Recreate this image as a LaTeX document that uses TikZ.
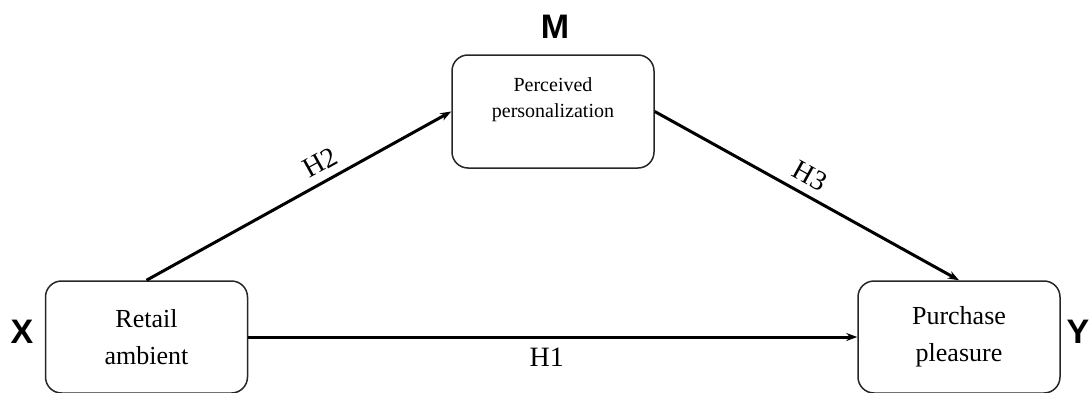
\documentclass[tikz,border=0pt]{standalone}
\usepackage{fontspec}
\setmainfont{Liberation Serif}
\newfontfamily\lsans{Liberation Sans}
\usetikzlibrary{arrows.meta}
\begin{document}
\begin{tikzpicture}[x=1pt,y=1pt,
  varbox/.style={draw=black!85, rounded corners=16pt, line width=1.5pt, minimum width=202pt, minimum height=112pt, inner sep=0pt, align=center},
  link/.style={line width=3pt, -{Stealth[length=11pt,width=8pt]}},
  hlabel/.style={font=\fontsize{28}{30}\selectfont, inner sep=2pt},
  letter/.style={font=\lsans\bfseries\fontsize{34}{36}\selectfont}]
\useasboundingbox (0,0) rectangle (1090,392);
\node[varbox, font=\fontsize{26}{37}\selectfont] (x) at (146.5,55) {Retail\\ambient};
\node[varbox, font=\fontsize{26}{37}\selectfont] (y) at (959,55) {Purchase\\pleasure};
\node[varbox, minimum height=113pt] (m) at (553,280.5) {};
\node[align=center, font=\fontsize{20}{26}\selectfont] (mtext) at (553,292) {Perceived\\personalization};
\node[letter] (ml) at (555,365) {M};
\node[letter] (xl) at (22,60) {X};
\node[letter] (yl) at (1078,60) {Y};
\draw[link] (x.north) -- node[hlabel, sloped, pos=0.6, above=6pt] {H2} (m.west);
\draw[link] (m.east) -- node[hlabel, sloped, pos=0.48, above=6pt] {H3} (y.north);
\draw[link] (x.east) -- node[hlabel, pos=0.49, below=8pt] {H1} (y.west);
\end{tikzpicture}
\end{document}
